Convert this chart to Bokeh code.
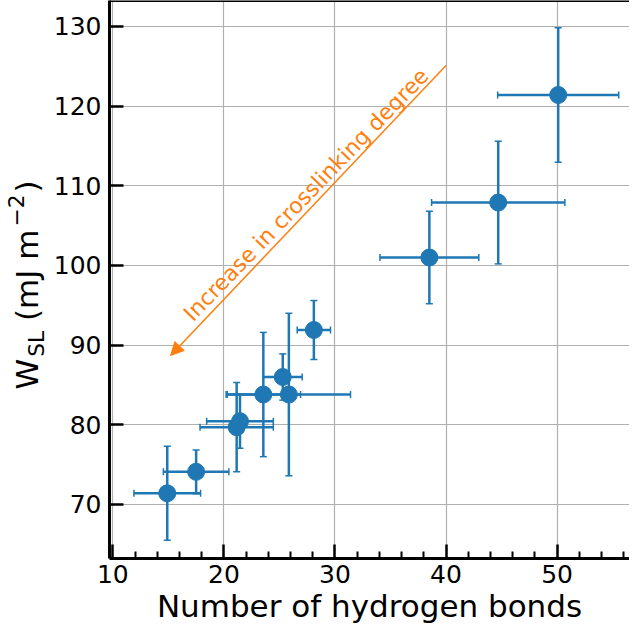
import math
from bokeh.plotting import figure
from bokeh.layouts import row
from bokeh.models import (Range1d, FixedTicker, Whisker, TeeHead, ColumnDataSource,
                          Arrow, NormalHead, Label, Span)
from bokeh.embed import file_html
from bokeh.resources import INLINE

# ---- data ----
hbonds = [14.9, 17.5, 21.15, 21.45, 23.55, 25.3, 25.85, 28.1, 38.5, 44.7, 50.1]
hbonds_err = [3.0, 2.95, 3.3, 3.0, 3.35, 1.75, 5.55, 1.5, 4.45, 6.0, 5.45]
wsl = [71.4, 74.1, 79.7, 80.45, 83.8, 86.0, 83.8, 91.9, 101.0, 107.9, 121.4]
wsl_err = [5.9, 2.75, 5.6, 3.4, 7.8, 2.9, 10.2, 3.7, 5.8, 7.7, 8.45]

x_ticks = [10, 20, 30, 40, 50]
y_ticks = [70, 80, 90, 100, 110, 120, 130]

x_label = "Number of hydrogen bonds"
y_label_parts = ["W", "SL", "(mJ m", "−2", ")"]   # W_SL (mJ m^-2)
annotation_text = "Increase in crosslinking degree"
arrow_from = (40.0, 125.1)
arrow_to = (15.2, 88.7)
annotation_pos = (27.41, 108.9)
annotation_angle_deg = 46

BLUE = "#1f77b4"
ORANGE = "#ff7f0e"
FONT = "DejaVu Sans"
H = 628
BOTTOM = 70
LABEL_W = 50

x_minor = [v for v in range(10, 58, 2) if v % 10]

p = figure(width=629 - LABEL_W, height=H,
           x_range=Range1d(9.70, 56.52), y_range=Range1d(63.22, 133.26),
           output_backend="svg", toolbar_location=None,
           min_border_left=107 - LABEL_W, min_border_right=0, min_border_top=0,
           min_border_bottom=BOTTOM)
p.outline_line_color = None
p.background_fill_color = "white"
p.border_fill_color = None

for ax in (p.xaxis[0], p.yaxis[0]):
    ax.axis_line_width = 3
    ax.axis_line_color = "black"
    ax.major_tick_in = 14
    ax.major_tick_out = 0
    ax.minor_tick_in = 7
    ax.minor_tick_out = 0
    ax.major_tick_line_width = 2.5
    ax.minor_tick_line_width = 2
    ax.major_label_text_font = FONT
    ax.major_label_text_font_size = "25px"
    ax.major_label_text_color = "black"

p.xaxis.ticker = FixedTicker(ticks=x_ticks, minor_ticks=x_minor)
p.yaxis.ticker = FixedTicker(ticks=y_ticks)
p.yaxis.minor_tick_line_color = None
p.xaxis.major_label_standoff = 6
p.yaxis.major_label_standoff = 8
p.xaxis.axis_label = x_label
p.xaxis.axis_label_text_font = FONT
p.xaxis.axis_label_text_font_size = "31px"
p.xaxis.axis_label_text_font_style = "normal"
p.xaxis.axis_label_text_color = "black"
p.xaxis.axis_label_standoff = 2

p.xgrid.ticker = FixedTicker(ticks=x_ticks)
p.ygrid.ticker = FixedTicker(ticks=y_ticks)
p.grid.grid_line_color = "#b0b0b0"
p.grid.grid_line_width = 1.2

# top spine
p.add_layout(Span(location=p.y_range.end, dimension="width", line_color="black", line_width=3))

src = ColumnDataSource(dict(
    x=hbonds, y=wsl,
    xlo=[a - e for a, e in zip(hbonds, hbonds_err)],
    xhi=[a + e for a, e in zip(hbonds, hbonds_err)],
    ylo=[a - e for a, e in zip(wsl, wsl_err)],
    yhi=[a + e for a, e in zip(wsl, wsl_err)],
))

def tee():
    return TeeHead(size=7, line_color=BLUE, line_width=1.5)

p.add_layout(Whisker(base="y", lower="xlo", upper="xhi", dimension="width", source=src,
                     line_color=BLUE, line_width=2.5, upper_head=tee(), lower_head=tee()))
p.add_layout(Whisker(base="x", lower="ylo", upper="yhi", dimension="height", source=src,
                     line_color=BLUE, line_width=2.5, upper_head=tee(), lower_head=tee()))
p.scatter("x", "y", source=src, size=17, fill_color=BLUE, line_color=BLUE)

# annotation arrow + text
p.add_layout(Arrow(end=NormalHead(size=13, fill_color=ORANGE, line_color=ORANGE, line_width=1),
                   x_start=arrow_from[0], y_start=arrow_from[1],
                   x_end=arrow_to[0], y_end=arrow_to[1],
                   line_color=ORANGE, line_width=1.5))
p.add_layout(Label(x=annotation_pos[0], y=annotation_pos[1], text=annotation_text,
                   angle=math.radians(annotation_angle_deg), text_align="center",
                   text_baseline="middle", text_color=ORANGE, text_font=FONT,
                   text_font_size="22px"))

# ---- y-axis label strip: W_SL (mJ m^-2), pixel coordinates (y from top) ----
# the strip's frame is aligned with the main frame (height H - BOTTOM)
lab = figure(width=LABEL_W, height=H, x_range=Range1d(0, LABEL_W),
             y_range=Range1d(H - BOTTOM, 0),
             x_axis_type=None, y_axis_type=None, output_backend="svg",
             toolbar_location=None, min_border=0)
lab.outline_line_color = None
lab.grid.visible = False
lab.background_fill_color = "white"
lab.border_fill_color = "white"

main_fs, sub_fs = 31, 21.7
adv = {"W": 0.989, "SL": 1.192, "(mJ m": 2.951, "−2": 1.474, ")": 0.390}
# (size, baseline x, gap before) for each part; each part is placed by its centre
styles = [(main_fs, 37, 0), (sub_fs, 44, 2), (main_fs, 37, 10), (sub_fs, 23, 3), (main_fs, 37, 2)]
y_pos = 389
for txt, (fs, baseline_x, gap_before) in zip(y_label_parts, styles):
    y_pos -= gap_before
    length = adv[txt] * fs
    lab.add_layout(Label(x=baseline_x - 0.346 * fs, y=y_pos - length / 2, text=txt,
                         angle=math.pi / 2, text_align="center", text_baseline="middle",
                         text_font=FONT, text_font_size=f"{fs}px", text_color="black"))
    y_pos -= length

layout = row(lab, p, spacing=0)
open("out.html", "w").write(file_html(layout, INLINE))
